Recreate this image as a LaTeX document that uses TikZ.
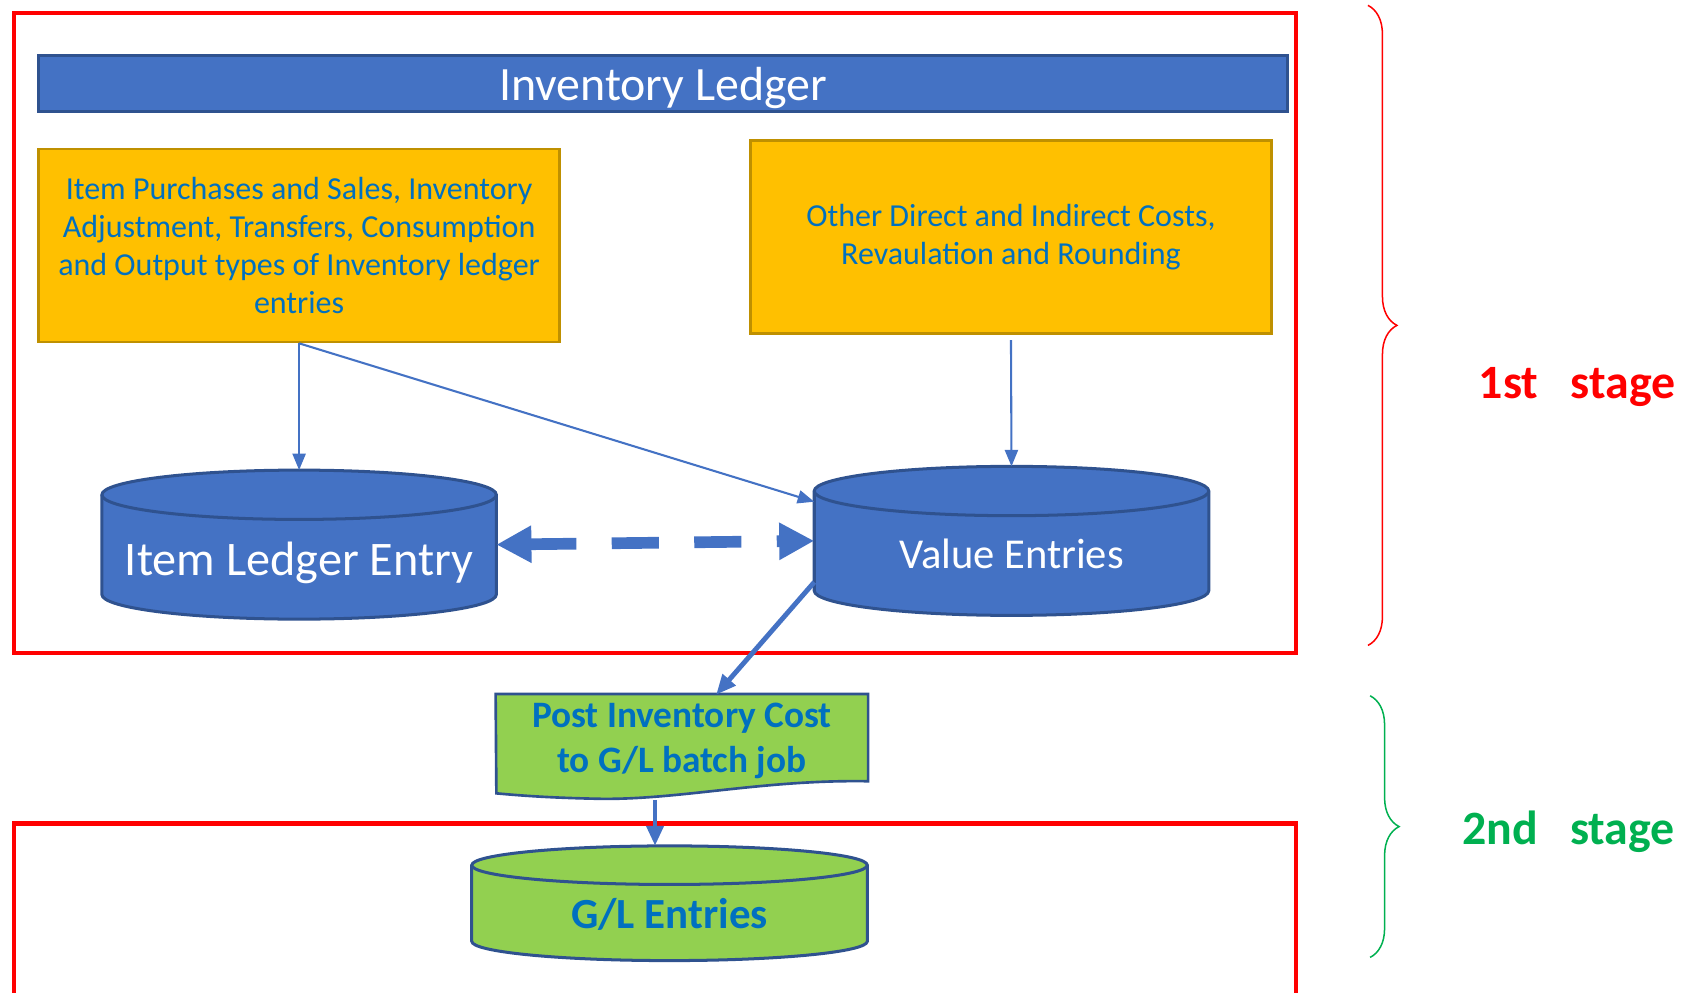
\documentclass[tikz,border=0pt]{standalone}
\usepackage{fontspec}
\setmainfont{Carlito}
\usetikzlibrary{arrows.meta,decorations.pathreplacing}
\definecolor{barblue}{HTML}{4472C4}
\definecolor{edgeblue}{HTML}{2F528F}
\definecolor{boxyellow}{HTML}{FFC000}
\definecolor{edgeyellow}{HTML}{BF9000}
\definecolor{textblue}{HTML}{0070C0}
\definecolor{docgreen}{HTML}{92D050}
\definecolor{stagegreen}{HTML}{00B050}
\definecolor{stagered}{HTML}{FF0000}

% cylinder round a named node: name, x radius, y radius, fill
\newcommand{\drawdb}[4]{%
	\filldraw[draw=edgeblue, fill=#4, line width=0.8pt]
		([yshift=-#3]#1.north west) -- ([yshift=#3]#1.south west)
		arc[start angle=180, end angle=360, x radius=#2, y radius=#3]
		-- ([yshift=-#3]#1.north east)
		arc[start angle=0, end angle=180, x radius=#2, y radius=#3] -- cycle;
	\draw[draw=edgeblue, line width=0.8pt] ([yshift=-#3]#1.north west)
		arc[start angle=180, end angle=360, x radius=#2, y radius=#3];
}

\begin{document}
\begin{tikzpicture}[
		stagebox/.style={draw=stagered, line width=1.2pt},
		srcbox/.style={draw=edgeyellow, fill=boxyellow, line width=0.7pt, minimum width=4.86cm, minimum height=1.80cm, inner sep=0pt, align=center, text=textblue, font=\fontsize{8.5}{10.1}\selectfont},
		db/.style={minimum width=3.68cm, minimum height=1.39cm, inner sep=0pt, outer sep=0pt},
		flow/.style={-{Triangle[length=4.4pt, width=3.5pt]}, color=barblue, line width=0.55pt},
		bigflow/.style={-{Triangle[length=5.3pt, width=4.4pt]}, color=barblue, line width=1.3pt},
		stagebrace/.style={line width=0.4pt, decorate, decoration={brace, amplitude=0.27cm}},
		stagelabel/.style={font=\bfseries\fontsize{12.7}{15}\selectfont},
	]
		\useasboundingbox (0,0) rectangle (15.68,-9.26);

		% stages
		\draw[stagebox] (0.13,-0.12) rectangle (12.09,-6.09);
		\draw[stagebox] (0.13,-7.68) rectangle (12.09,-9.60);

		\node[draw=edgeblue, fill=barblue, line width=0.7pt, minimum width=11.65cm, minimum height=0.52cm, inner sep=0pt] (ledger) at (6.185,-0.78) {};
		\node[text=white, font=\fontsize{12.7}{14}\selectfont] (ledgertext) at (6.185,-0.82) {Inventory Ledger};

		\node[srcbox] (purch) at (2.79,-2.29) {Item Purchases and Sales, Inventory\\Adjustment, Transfers, Consumption\\and Output types of Inventory ledger\\entries};
		\node[srcbox] (costs) at (9.43,-2.21) {Other Direct and Indirect Costs,\\Revaulation and Rounding};

		\node[db] (ile) at (2.79,-5.08) {};
		\node[db] (ve) at (9.435,-5.045) {};
		\drawdb{ile}{1.84cm}{0.23cm}{barblue}
		\drawdb{ve}{1.84cm}{0.23cm}{barblue}
		\node[text=white, font=\fontsize{12.8}{14}\selectfont] (iletext) at (2.79,-5.25) {Item Ledger Entry};
		\node[text=white, font=\fontsize{11.3}{13}\selectfont] (vetext) at (9.435,-5.17) {Value Entries};

		\draw[flow] (purch.south) -- (ile.north);
		\draw[flow] (purch.south) -- ([yshift=3.65mm]ve.west);
		\draw[flow] ([yshift=-0.5mm]costs.south) -- (ve.north);

		\draw[{Triangle[length=9.3pt, width=9.3pt]}-{Triangle[length=9.3pt, width=9.3pt]}, color=barblue, line width=3.1pt, dash pattern=on 12.5pt off 9.4pt] (ile.east) -- (ve.west);

		% batch job
		\node[minimum width=3.46cm, minimum height=0.80cm, inner sep=0pt] (doc) at (6.36,-6.88) {};
		\filldraw[draw=edgeblue, fill=docgreen, line width=0.7pt] (doc.north west) -- (doc.north east) -- (doc.south east)
			.. controls (7.10,-7.27) and (6.30,-7.47) .. (5.55,-7.45)
			.. controls (5.10,-7.44) and (4.85,-7.42) .. (4.63,-7.40) -- cycle;
		\node[align=center, text=textblue, font=\bfseries\fontsize{9.9}{11.9}\selectfont] (doctext) at (6.36,-6.91) {Post Inventory Cost\\to G/L batch job};

		\draw[bigflow] ([yshift=-0.385cm]ve.west) -- (6.68,-6.48);

		\node[db, minimum width=3.69cm, minimum height=1.07cm] (gl) at (6.245,-8.425) {};
		\drawdb{gl}{1.845cm}{0.18cm}{docgreen}
		\node[text=textblue, font=\bfseries\fontsize{11.4}{13}\selectfont] (gltext) at (6.245,-8.53) {G/L Entries};

		\coordinate (docout) at (6.11,-7.46);
		\draw[bigflow] (docout) -- (docout |- gl.north);

		% braces
		\draw[stagered, stagebrace] (12.76,-0.05) -- (12.76,-6.02);
		\draw[stagegreen, stagebrace] (12.78,-6.49) -- (12.78,-8.93);
		\node[stagelabel, text=stagered] (first) at (14.71,-3.61) {1st\ \ \ stage};
		\node[stagelabel, text=stagegreen] (second) at (14.63,-7.76) {2nd\ \ \ stage};
	\end{tikzpicture}
\end{document}
